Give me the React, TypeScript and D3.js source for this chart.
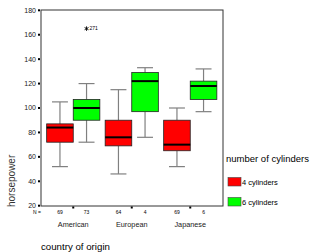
import * as d3 from "d3";

const WIDTH = 310;
const HEIGHT = 252;
const FRAME = { left: 41, right: 223, top: 10, bottom: 206 };
const FONT = "Liberation Sans, Arial, sans-serif";

const ORIGINS = ["American", "European", "Japanese"];
const CYLINDERS = ["4 cylinders", "6 cylinders"];
const COLORS = ["#ff0000", "#00ff00"];
const Y_TICKS = [20, 40, 60, 80, 100, 120, 140, 160, 180];

// [whisker low, q1, median, q3, whisker high] per origin, per cylinder group
const STATS_4CYL = [
  [52, 72, 84, 87, 105],
  [46, 69, 76, 90, 115],
  [52, 65, 70, 90, 100],
];
const STATS_6CYL = [
  [72, 90, 100, 107, 120],
  [76, 97, 122, 129, 133],
  [97, 107, 118, 122, 132],
];
const COUNTS_4CYL = [69, 64, 69];
const COUNTS_6CYL = [73, 4, 6];
// extreme value: origin, cylinder group, value, case label
const EXTREMES = [{ origin: "American", group: 1, value: 165, label: "271" }];

export default function App() {
  const y = d3.scaleLinear().domain([20, 180]).range([205.7, 10.3]);
  const x = d3.scaleBand().domain(ORIGINS).range([44, 219.5]);
  const inner = d3
    .scaleBand<number>()
    .domain([0, 1])
    .range([0, x.bandwidth()])
    .paddingOuter(0.1);
  const boxW = inner.bandwidth();
  const stats = [STATS_4CYL, STATS_6CYL];
  const counts = [COUNTS_4CYL, COUNTS_6CYL];
  const boxX = (o: string, g: number) => (x(o) ?? 0) + (inner(g) ?? 0);
  const boxC = (o: string, g: number) => boxX(o, g) + boxW / 2;
  const capW = boxW * 0.6;
  const star = d3.symbol(d3.symbolAsterisk, 14)() ?? "";

  return (
    <svg width={WIDTH} height={HEIGHT} style={{ position: "absolute", left: 0, top: 0 }} fontFamily={FONT}>
      <rect x={FRAME.left} y={FRAME.top} width={FRAME.right - FRAME.left} height={FRAME.bottom - FRAME.top} fill="none" stroke="#333" strokeWidth={1} />

      {Y_TICKS.map((t) => (
        <g key={t}>
          <rect x={38} y={y(t) - 1} width={2} height={2} fill="#000" />
          <text x={36} y={y(t)} dy="0.35em" textAnchor="end" fontSize={7} fill="#222">
            {t}
          </text>
        </g>
      ))}

      {ORIGINS.map((o, oi) => (
        <g key={o}>
          {[0, 1].map((g) => {
            const [lo, q1, med, q3, hi] = stats[g][oi];
            const cx = boxC(o, g);
            return (
              <g key={g}>
                <line x1={cx} x2={cx} y1={y(hi)} y2={y(q3)} stroke="#808080" strokeWidth={1.2} />
                <line x1={cx} x2={cx} y1={y(q1)} y2={y(lo)} stroke="#808080" strokeWidth={1.2} />
                <line x1={cx - capW / 2} x2={cx + capW / 2} y1={y(hi)} y2={y(hi)} stroke="#808080" strokeWidth={1.2} />
                <line x1={cx - capW / 2} x2={cx + capW / 2} y1={y(lo)} y2={y(lo)} stroke="#808080" strokeWidth={1.2} />
                <rect x={boxX(o, g)} y={y(q3)} width={boxW} height={y(q1) - y(q3)} fill={COLORS[g]} stroke="#222" strokeWidth={0.8} />
                <line x1={boxX(o, g)} x2={boxX(o, g) + boxW} y1={y(med)} y2={y(med)} stroke="#000" strokeWidth={2} />
                <text x={cx} y={212} dy="0.35em" textAnchor="middle" fontSize={5} fill="#000">
                  {counts[g][oi]}
                </text>
              </g>
            );
          })}
          <rect x={(x(o) ?? 0) + x.bandwidth() / 2 - 1} y={206.5} width={2} height={2} fill="#000" />
          <text x={(x(o) ?? 0) + x.bandwidth() / 2} y={224} dy="0.35em" textAnchor="middle" fontSize={7.3} fill="#222">
            {o}
          </text>
        </g>
      ))}

      {EXTREMES.map((e) => {
        const cx = boxC(e.origin, e.group);
        const cy = y(e.value);
        return (
          <g key={e.label}>
            <path d={star} transform={`translate(${cx},${cy})`} fill="none" stroke="#000" strokeWidth={0.9} />
            <text x={cx + 3} y={cy - 0.5} dy="0.35em" fontSize={5} fill="#000">
              {e.label}
            </text>
          </g>
        );
      })}

      <text x={37} y={212} dy="0.35em" textAnchor="middle" fontSize={5} fill="#000">
        N =
      </text>

      <text transform="translate(15,207) rotate(-90)" fontSize={10} fill="#333">
        horsepower
      </text>
      <text x={41} y={250} fontSize={9.7} fill="#000">
        country of origin
      </text>

      <text x={226} y={162} fontSize={9.5} fill="#000">
        number of cylinders
      </text>
      {CYLINDERS.map((c, i) => (
        <g key={c}>
          <rect x={228} y={177.5 + i * 20} width={13} height={8.5} fill={COLORS[i]} stroke="#444" strokeWidth={0.6} />
          <text x={242} y={182 + i * 20} dy="0.35em" fontSize={7.5} fill="#000">
            {c}
          </text>
        </g>
      ))}
    </svg>
  );
}
